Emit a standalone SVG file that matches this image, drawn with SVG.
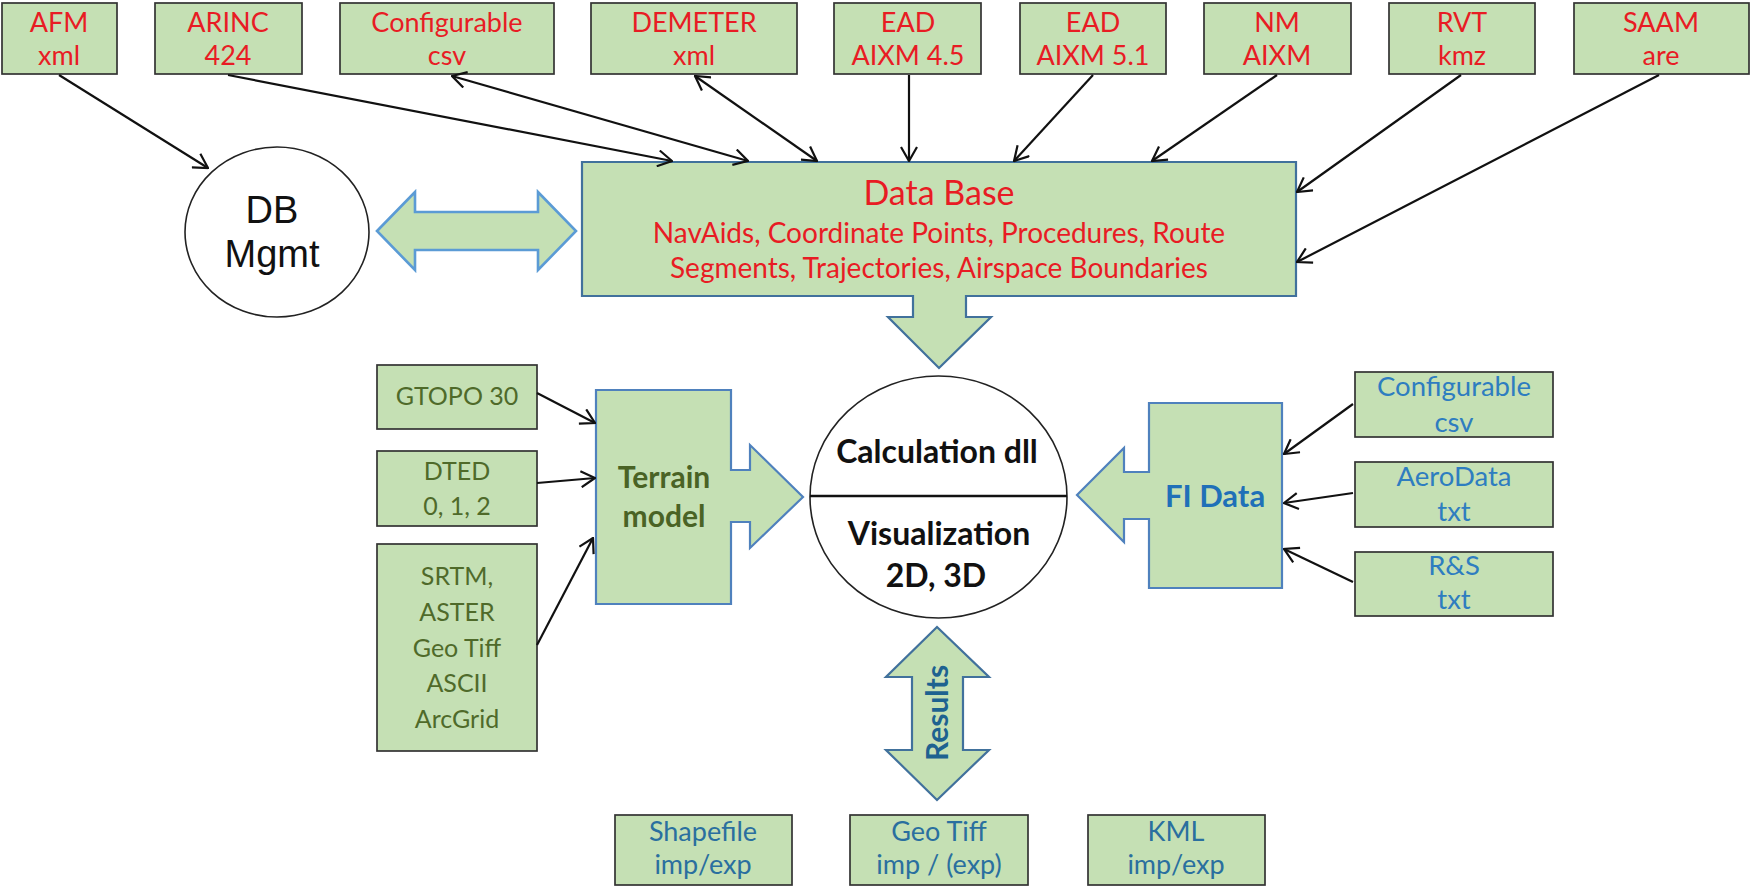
<svg xmlns="http://www.w3.org/2000/svg" width="1751" height="886" viewBox="0 0 1751 886">
  <style>
    .src { fill: #c5e0b4; stroke: #333333; stroke-width: 1.7; }
    .blk { fill: #c5e0b4; stroke: #4f81bd; stroke-width: 2.2; stroke-linejoin: miter; }
    .blk-dark { fill: #c5e0b4; stroke: #41719c; stroke-width: 2.2; }
    .blk-light { fill: #c5e0b4; stroke: #5b9bd5; stroke-width: 2.6; }
    .ring { fill: #ffffff; stroke: #222222; stroke-width: 1.6; }
    text { font-family: Lato, "Open Sans", sans-serif; text-anchor: middle; }
    .red { fill: #e81c24; font-size: 27px; }
    .olive { fill: #4f6a2a; font-size: 25px; }
    .blue { fill: #2e7dc0; font-size: 27.5px; }
    .teal { fill: #2a6f9f; font-size: 27px; }
    .conn line { stroke: #111111; stroke-width: 2.2; fill: none; }
  </style>
  <defs>
    <marker id="head" viewBox="0 0 16 18" refX="15" refY="9" markerWidth="16" markerHeight="18" markerUnits="userSpaceOnUse" orient="auto-start-reverse">
      <path d="M1,1 L15,9 L1,17" fill="none" stroke="#111111" stroke-width="2.2"/>
    </marker>
  </defs>

  <rect width="1751" height="886" fill="#ffffff"/>

  <!-- data sources along the top -->
  <g id="afm"><rect class="src" x="2" y="3" width="115" height="71"/><text class="red" x="59" y="32">AFM</text><text class="red" x="59" y="65">xml</text></g>
  <g id="arinc"><rect class="src" x="155" y="3" width="147" height="71"/><text class="red" x="228" y="32">ARINC</text><text class="red" x="228" y="65">424</text></g>
  <g id="configurable-top"><rect class="src" x="340" y="3" width="214" height="71"/><text class="red" x="447" y="32">Configurable</text><text class="red" x="447" y="65">csv</text></g>
  <g id="demeter"><rect class="src" x="591" y="3" width="206" height="71"/><text class="red" x="694" y="32">DEMETER</text><text class="red" x="694" y="65">xml</text></g>
  <g id="ead45"><rect class="src" x="834" y="3" width="147" height="71"/><text class="red" x="908" y="32">EAD</text><text class="red" x="908" y="65">AIXM 4.5</text></g>
  <g id="ead51"><rect class="src" x="1020" y="3" width="146" height="71"/><text class="red" x="1093" y="32">EAD</text><text class="red" x="1093" y="65">AIXM 5.1</text></g>
  <g id="nm"><rect class="src" x="1204" y="3" width="147" height="71"/><text class="red" x="1277" y="32">NM</text><text class="red" x="1277" y="65">AIXM</text></g>
  <g id="rvt"><rect class="src" x="1389" y="3" width="146" height="71"/><text class="red" x="1462" y="32">RVT</text><text class="red" x="1462" y="65">kmz</text></g>
  <g id="saam"><rect class="src" x="1574" y="3" width="175" height="71"/><text class="red" x="1661" y="32">SAAM</text><text class="red" x="1661" y="65">are</text></g>

  <!-- database management -->
  <g id="db-mgmt">
    <ellipse class="ring" cx="277" cy="232" rx="92" ry="85"/>
    <text x="272" y="223" style="font-family:'Liberation Sans',Arial,sans-serif;font-size:38px;fill:#111">DB</text>
    <text x="272" y="267" style="font-family:'Liberation Sans',Arial,sans-serif;font-size:38px;fill:#111">Mgmt</text>
  </g>

  <g id="db-exchange">
    <path class="blk-light" d="M377,231 L415,192 L415,212 L538,212 L538,192 L576,231 L538,270 L538,250 L415,250 L415,270 Z"/>
  </g>

  <!-- central data base with its output arrow -->
  <g id="data-base">
    <path class="blk-dark" d="M582,162 L1296,162 L1296,296 L966,296 L966,317 L991,317 L939,368 L888,317 L913,317 L913,296 L582,296 Z"/>
    <text x="939" y="205" style="fill:#e81c24;font-size:34px">Data Base</text>
    <text x="939" y="243" style="fill:#e81c24;font-size:28px">NavAids, Coordinate Points, Procedures, Route</text>
    <text x="939" y="278" style="fill:#e81c24;font-size:28px">Segments, Trajectories, Airspace Boundaries</text>
  </g>

  <!-- terrain inputs -->
  <g id="gtopo"><rect class="src" x="377" y="365" width="160" height="64"/><text class="olive" x="457" y="405">GTOPO 30</text></g>
  <g id="dted"><rect class="src" x="377" y="451" width="160" height="75"/><text class="olive" x="457" y="480">DTED</text><text class="olive" x="457" y="515">0, 1, 2</text></g>
  <g id="srtm">
    <rect class="src" x="377" y="544" width="160" height="207"/>
    <text class="olive" x="457" y="585">SRTM,</text>
    <text class="olive" x="457" y="621">ASTER</text>
    <text class="olive" x="457" y="657">Geo Tiff</text>
    <text class="olive" x="457" y="692">ASCII</text>
    <text class="olive" x="457" y="728">ArcGrid</text>
  </g>

  <g id="terrain-model">
    <path class="blk" d="M596,390 L731,390 L731,470 L750,470 L750,445 L803,497 L750,548 L750,522 L731,522 L731,604 L596,604 Z"/>
    <text x="664" y="488" style="fill:#4a6325;font-size:30px;font-weight:bold">Terrain</text>
    <text x="664" y="527" style="fill:#4a6325;font-size:30px;font-weight:bold">model</text>
  </g>

  <!-- calculation core -->
  <g id="core">
    <ellipse class="ring" cx="938.5" cy="497" rx="128.5" ry="121"/>
    <line x1="810" y1="496" x2="1067" y2="496" stroke="#111111" stroke-width="2.5"/>
    <text x="937" y="463" style="fill:#111;font-size:32px;font-weight:bold">Calculation dll</text>
    <text x="939" y="545" style="fill:#111;font-size:32px;font-weight:bold">Visualization</text>
    <text x="936" y="587" style="fill:#111;font-size:32px;font-weight:bold">2D, 3D</text>
  </g>

  <g id="fi-data">
    <path class="blk" d="M1149,403 L1282,403 L1282,588 L1149,588 L1149,519 L1124,519 L1124,542 L1077,495 L1124,448 L1124,472 L1149,472 Z"/>
    <text x="1215" y="507" style="fill:#1f70b8;font-size:31px;font-weight:bold">FI Data</text>
  </g>

  <!-- flight inspection inputs -->
  <g id="configurable-fi"><rect class="src" x="1355" y="372" width="198" height="65"/><text class="blue" x="1454" y="396">Configurable</text><text class="blue" x="1454" y="432">csv</text></g>
  <g id="aerodata"><rect class="src" x="1355" y="462" width="198" height="65"/><text class="blue" x="1454" y="486">AeroData</text><text class="blue" x="1454" y="521">txt</text></g>
  <g id="rs"><rect class="src" x="1355" y="552" width="198" height="64"/><text class="blue" x="1454" y="575">R&amp;S</text><text class="blue" x="1454" y="609">txt</text></g>

  <!-- results exchange -->
  <g id="results">
    <path class="blk-dark" d="M937,627 L989,677 L963,677 L963,750 L989,750 L937,800 L886,750 L912,750 L912,677 L886,677 Z"/>
    <text transform="translate(948,713) rotate(-90)" x="0" y="0" style="fill:#1e6290;font-size:30px;font-weight:bold">Results</text>
  </g>

  <g id="shapefile"><rect class="src" x="615" y="815" width="177" height="70"/><text class="teal" x="703" y="841">Shapefile</text><text class="teal" x="703" y="874">imp/exp</text></g>
  <g id="geotiff"><rect class="src" x="850" y="815" width="178" height="70"/><text class="teal" x="939" y="841">Geo Tiff</text><text class="teal" x="939" y="874">imp / (exp)</text></g>
  <g id="kml"><rect class="src" x="1088" y="815" width="177" height="70"/><text class="teal" x="1176" y="841">KML</text><text class="teal" x="1176" y="874">imp/exp</text></g>

  <!-- connectors -->
  <g id="connectors" class="conn">
    <line x1="59" y1="75" x2="208" y2="168" marker-end="url(#head)"/>
    <line x1="228" y1="75" x2="672" y2="161" marker-end="url(#head)"/>
    <line x1="452" y1="76" x2="748" y2="161" marker-start="url(#head)" marker-end="url(#head)"/>
    <line x1="695" y1="76" x2="817" y2="161" marker-start="url(#head)" marker-end="url(#head)"/>
    <line x1="909" y1="75" x2="909" y2="161" marker-end="url(#head)"/>
    <line x1="1093" y1="75" x2="1014" y2="161" marker-end="url(#head)"/>
    <line x1="1277" y1="75" x2="1152" y2="161" marker-end="url(#head)"/>
    <line x1="1461" y1="75" x2="1297" y2="192" marker-end="url(#head)"/>
    <line x1="1659" y1="75" x2="1297" y2="262" marker-end="url(#head)"/>
    <line x1="537" y1="393" x2="595" y2="423" marker-end="url(#head)"/>
    <line x1="537" y1="483" x2="595" y2="478" marker-end="url(#head)"/>
    <line x1="537" y1="645" x2="593" y2="538" marker-end="url(#head)"/>
    <line x1="1353" y1="404" x2="1284" y2="454" marker-end="url(#head)"/>
    <line x1="1353" y1="493" x2="1284" y2="503" marker-end="url(#head)"/>
    <line x1="1353" y1="582" x2="1284" y2="549" marker-end="url(#head)"/>
  </g>
</svg>
